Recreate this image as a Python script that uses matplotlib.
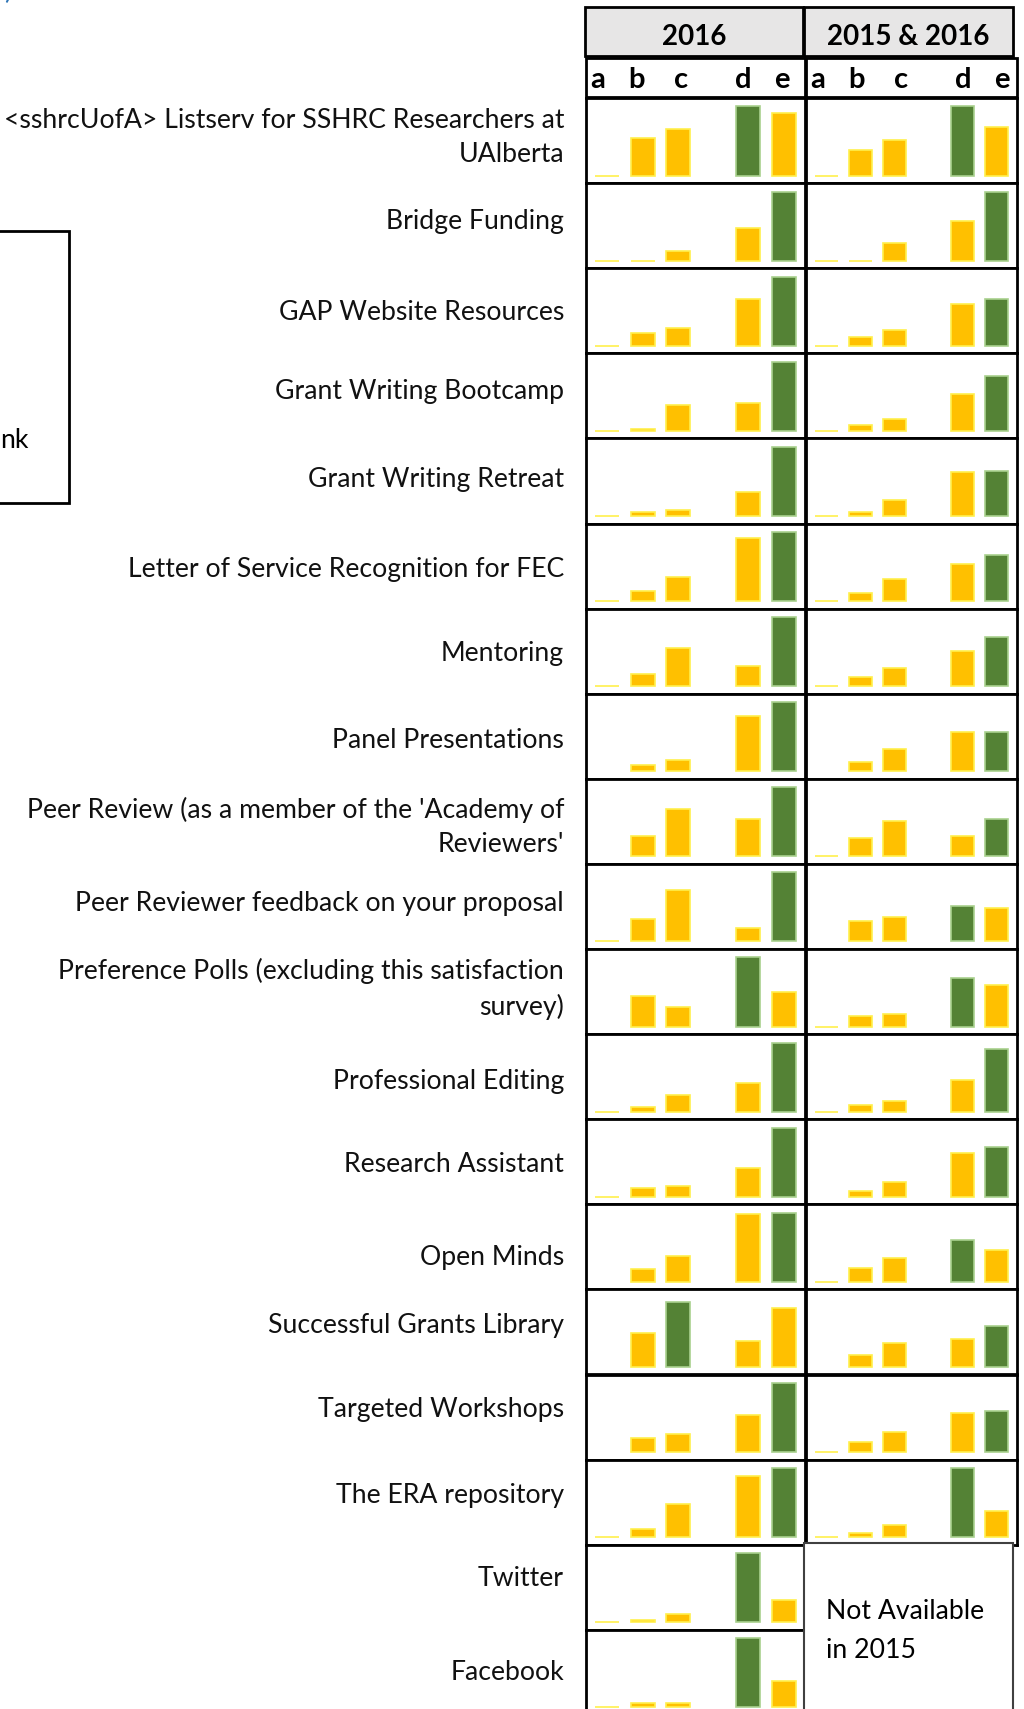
import numpy as np
import matplotlib
matplotlib.use('Agg')
import matplotlib.pyplot as plt
from matplotlib.patches import Rectangle

plt.rcParams['font.family'] = ['Lato', 'DejaVu Sans']

# ---------------- data ----------------
services = [
    "<sshrcUofA> Listserv for SSHRC Researchers at\nUAlberta",
    "Bridge Funding",
    "GAP Website Resources",
    "Grant Writing Bootcamp",
    "Grant Writing Retreat",
    "Letter of Service Recognition for FEC",
    "Mentoring",
    "Panel Presentations",
    "Peer Review (as a member of the 'Academy of\nReviewers'",
    "Peer Reviewer feedback on your proposal",
    "Preference Polls (excluding this satisfaction\nsurvey)",
    "Professional Editing",
    "Research Assistant",
    "Open Minds",
    "Successful Grants Library",
    "Targeted Workshops",
    "The ERA repository",
    "Twitter",
    "Facebook",
]
letters = ['a', 'b', 'c', 'd', 'e']
col_titles = ['2016', '2015 & 2016']
na = np.nan

# relative bar heights (tallest bar of a 2016 panel = 100)
vals_2016 = [
    [0, 54, 68, 100, 91],
    [0, 0, 14, 48, 100],
    [0, 18, 26, 67, 100],
    [0, 3, 37, 40, 100],
    [0, 6, 9, 34, 100],
    [0, 15, 35, 91, 100],
    [0, 17, 55, 29, 100],
    [na, 9, 17, 80, 100],
    [na, 29, 68, 54, 100],
    [0, 32, 75, 20, 100],
    [na, 44, 29, 100, 50],
    [0, 7, 24, 41, 100],
    [0, 12, 15, 41, 100],
    [na, 18, 38, 98, 100],
    [na, 49, 94, 38, 86],
    [na, 20, 26, 54, 100],
    [0, 12, 48, 88, 100],
    [0, 3, 12, 100, 32],
    [0, 6, 6, 100, 38],
]
vals_2015_2016 = [
    [0, 37, 52, 100, 71],
    [0, 0, 26, 57, 100],
    [0, 12, 23, 61, 67],
    [0, 9, 17, 54, 80],
    [0, 6, 23, 63, 65],
    [0, 12, 32, 53, 67],
    [0, 14, 26, 51, 71],
    [na, 14, 32, 57, 57],
    [0, 26, 51, 29, 54],
    [na, 29, 35, 52, 49],
    [0, 15, 18, 71, 60],
    [0, 9, 15, 46, 91],
    [na, 9, 21, 64, 72],
    [0, 20, 35, 61, 46],
    [na, 18, 35, 40, 60],
    [0, 14, 29, 57, 60],
    [0, 6, 18, 100, 38],
    None,
    None,
]
not_available_text = ["Not Available", "in 2015"]

# ---------------- layout ----------------
W, H = 1024, 1709
fig = plt.figure(figsize=(W / 100, H / 100), dpi=100)

YEL, YEL_EDGE = '#FFC000', '#FFF04D'
GRN, GRN_EDGE = '#548235', '#A9D18E'

row_top, row_h = 98.0, 85.1
col_x = [(586, 805), (806, 1017)]
bar_x = [0, 1, 2, 4, 5]
letter_off = [12, 51, 95, 157, 196]
XL = (-0.6, 5.6)
YL = (-10.9, 112.3)
label_y = [134, 219, 310, 388, 477, 567, 650, 738, 824, 901, 986,
           1078, 1162, 1255, 1323, 1407, 1492, 1576, 1670]
FS = 19.2


def fx(x):
    return x / W


def fy(y):
    return 1 - y / H


for i in range(len(services)):
    for j, data in enumerate([vals_2016, vals_2015_2016]):
        v = data[i]
        if v is None:
            continue
        x0, x1 = col_x[j]
        y0 = row_top + row_h * i
        ax = fig.add_axes([fx(x0), fy(y0 + row_h), (x1 - x0) / W, row_h / H])
        arr = np.array(v, dtype=float)
        imax = len(arr) - 1 - int(np.nanargmax(arr[::-1]))
        fc = [GRN if k == imax else YEL for k in range(len(arr))]
        ec = [GRN_EDGE if k == imax else YEL_EDGE for k in range(len(arr))]
        ax.bar(bar_x, arr, width=0.68, color=fc, edgecolor=ec, linewidth=1.2)
        ax.set_xlim(*XL)
        ax.set_ylim(*YL)
        ax.set_xticks([])
        ax.set_yticks([])
        for s in ax.spines.values():
            s.set_linewidth(2)
            s.set_color('black')

ov = fig.add_axes([0, 0, 1, 1], zorder=10)
ov.set_xlim(0, W)
ov.set_ylim(H, 0)
ov.axis('off')
ov.patch.set_alpha(0)

# header boxes
hdr = [(585, 803), (804, 1013)]
for (x0, x1), t in zip(hdr, col_titles):
    ov.add_patch(Rectangle((x0, 7), x1 - x0, 49, fc='#E7E6E6', ec='black', lw=2))
    ov.text((x0 + x1) / 2, 37, t, ha='center', va='center',
            fontsize=20, fontweight='bold', color='black')

# letter row
for (x0, x1) in col_x:
    ov.add_patch(Rectangle((x0, 58), x1 - x0, 39, fc='white', ec='black', lw=2))
    for off, l in zip(letter_off, letters):
        ov.text(x0 + off, 88, l, ha='center', va='baseline',
                fontsize=21, fontweight='bold', color='black')

# service labels
for s, y in zip(services, label_y):
    ov.text(564, y + 3, s, ha='right', va='center', fontsize=FS,
            color='#111111', linespacing=1.45)

# Not available box
ov.add_patch(Rectangle((804, 1543), 209, 200, fc='white', ec='#404040', lw=1.5))
ov.text(826, 1619, not_available_text[0], ha='left', va='baseline',
        fontsize=FS, color='black')
ov.text(826, 1658, not_available_text[1], ha='left', va='baseline',
        fontsize=FS, color='black')

# partial legend box at the left edge
ov.add_patch(Rectangle((-10, 231), 79, 272, fc='none', ec='black', lw=2))
ov.text(29, 440, "nk", ha='right', va='center', fontsize=FS, color='black')
ov.text(4, 4, ")", ha='left', va='bottom', fontsize=FS, color='#2E75B6')

fig.savefig('out.png', dpi=100)
